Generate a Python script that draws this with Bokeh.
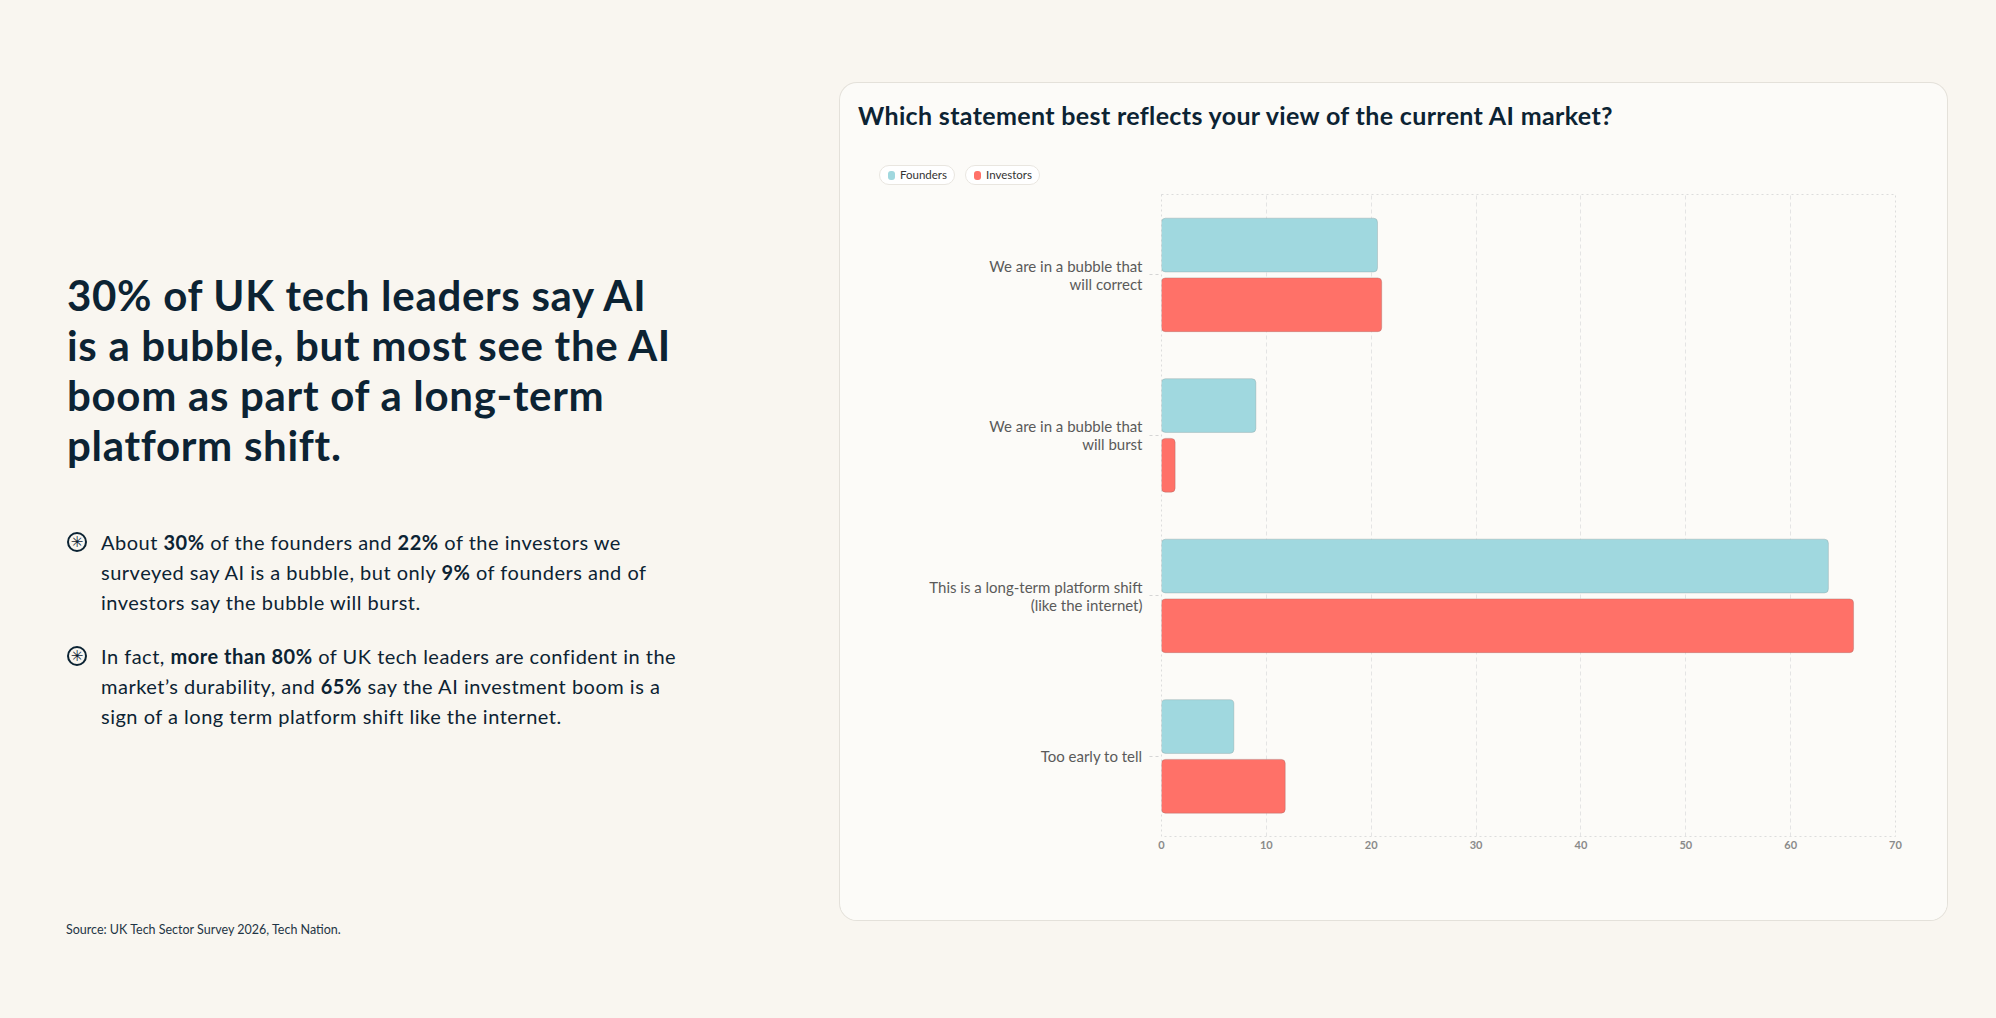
from bokeh.plotting import figure
from bokeh.models import (ColumnDataSource, Range1d, FactorRange, FixedTicker, Div,
                          GlobalInlineStyleSheet)
from bokeh.layouts import row, column
from bokeh.transform import dodge
from bokeh.embed import file_html
from bokeh.resources import INLINE

# --- data -------------------------------------------------------------
categories = [
    "We are in a bubble that\nwill correct",
    "We are in a bubble that\nwill burst",
    "This is a long-term platform shift\n(like the internet)",
    "Too early to tell",
]
founders = [20.6, 9.0, 63.6, 6.9]
investors = [21.0, 1.3, 66.0, 11.8]
x_ticks = [0, 10, 20, 30, 40, 50, 60, 70]

title = "Which statement best reflects your view of the current AI market?"
headline = ["30% of UK tech leaders say AI", "is a bubble, but most see the AI",
            "boom as part of a long-term", "platform shift."]
bullet_1 = ["About <b>30%</b> of the founders and <b>22%</b> of the investors we",
            "surveyed say AI is a bubble, but only <b>9%</b> of founders and of",
            "investors say the bubble will burst."]
bullet_2 = ["In fact, <b>more than 80%</b> of UK tech leaders are confident in the",
            "market\u2019s durability, and <b>65%</b> say the AI investment boom is a",
            "sign of a long term platform shift like the internet."]
source_note = "Source: UK Tech Sector Survey 2026, Tech Nation."

PAGE_BG = "#F9F6F0"
CARD_BG = "#FCFBF8"
INK = "#0C2333"
FOUNDERS = "#A0D8DF"
INVESTORS = "#FF7168"
FONT = "Lato"


def set_color(name):
    return FOUNDERS if name == "Founders" else INVESTORS


# --- left narrative ------------------------------------------------------
def bullet(lines, top):
    icon = (f'<div style="position:absolute;left:67px;top:{top + 5}px;width:20px;height:20px;'
            f'box-sizing:border-box;border:2px solid {INK};border-radius:50%;display:flex;'
            f'align-items:center;justify-content:center;font-family:\'DejaVu Sans\';'
            f'font-size:15px;font-weight:700;line-height:1;color:{INK};">\u2733</div>')
    body = (f'<div style="position:absolute;left:101px;top:{top}px;font-size:20px;line-height:30px;'
            f'letter-spacing:0.5px;white-space:nowrap;color:{INK};">' + "<br>".join(lines) + "</div>")
    return icon + body


left_html = (
    f'<div style="position:relative;width:840px;height:1018px;font-family:{FONT};">'
    f'<div style="position:absolute;left:67px;top:270px;font-size:42px;line-height:50px;'
    f'font-weight:700;letter-spacing:0.7px;white-space:nowrap;color:{INK};">'
    + "<br>".join(headline) + "</div>"
    + bullet(bullet_1, 527) + bullet(bullet_2, 641)
    + f'<div style="position:absolute;left:66px;top:922px;font-size:12.5px;line-height:16px;'
      f'white-space:nowrap;color:#1F3545;">{source_note}</div>'
    + "</div>"
)
left = Div(text=left_html, width=840, height=1018, margin=0)


# --- card header: title + legend pills ----------------------------------
def pill(name):
    return (f'<span style="display:inline-flex;align-items:center;height:20px;box-sizing:border-box;'
            f'padding:0 7px 0 8px;margin-right:10px;border:1px solid #E9E6E0;border-radius:11px;'
            f'background:#FFFFFF;font-size:11.5px;color:#333333;">'
            f'<span style="display:inline-block;width:7px;height:9px;border-radius:3px;'
            f'background:{set_color(name)};margin-right:5px;"></span>{name}</span>')


header_html = (
    f'<div style="position:relative;width:1107px;height:107px;font-family:{FONT};">'
    f'<div style="position:absolute;left:18px;top:17px;font-size:25px;line-height:30px;'
    f'font-weight:700;letter-spacing:0.35px;white-space:nowrap;color:{INK};">{title}</div>'
    f'<div style="position:absolute;left:39px;top:82px;display:flex;">'
    + pill("Founders") + pill("Investors") + "</div></div>"
)
header = Div(text=header_html, width=1107, height=107, margin=0)

# --- bar chart -----------------------------------------------------------
source = ColumnDataSource(dict(cat=categories, founders=founders, investors=investors))

p = figure(width=1107, height=730, title=None,
           y_range=FactorRange(factors=categories[::-1]), x_range=Range1d(0, 70),
           output_backend="svg", toolbar_location=None,
           min_border_left=321, min_border_right=52, min_border_top=4, min_border_bottom=84,
           background_fill_color=CARD_BG, border_fill_color=CARD_BG)

p.hbar(y=dodge("cat", 0.185, range=p.y_range), left=0, right="founders", height=0.335,
       fill_color=FOUNDERS, line_color="#8A9A9C", line_alpha=0.35, border_radius=4, source=source)
p.hbar(y=dodge("cat", -0.187, range=p.y_range), left=0, right="investors", height=0.335,
       fill_color=INVESTORS, line_color="#9A6A66", line_alpha=0.35, border_radius=4, source=source)

p.outline_line_color = "#DCDCDC"
p.outline_line_dash = "2 3"
p.ygrid.grid_line_color = None
p.xgrid.grid_line_color = "#E4E4E4"
p.xgrid.grid_line_dash = "4 3"

p.xaxis.ticker = FixedTicker(ticks=x_ticks)
p.xaxis.axis_line_color = None
p.xaxis.major_tick_line_color = None
p.xaxis.major_tick_out = 0
p.xaxis.major_tick_in = 0
p.xaxis.minor_tick_line_color = None
p.xaxis.major_label_standoff = 4
p.xaxis.major_label_text_font = FONT
p.xaxis.major_label_text_font_size = "11px"
p.xaxis.major_label_text_font_style = "bold"
p.xaxis.major_label_text_color = "#8A8A8A"

p.yaxis.axis_line_color = None
p.yaxis.major_tick_in = 0
p.yaxis.major_tick_out = 12
p.yaxis.major_tick_line_color = "#D5D5D5"
p.yaxis.major_tick_line_dash = "3 3"
p.yaxis.major_label_standoff = 7
p.yaxis.major_label_text_font = FONT
p.yaxis.major_label_text_font_size = "15px"
p.yaxis.major_label_text_line_height = 1.0
p.yaxis.major_label_text_color = "#5A5A5A"

card = column(header, p, margin=(83, 49, 98, 0),
              styles={"background-color": CARD_BG, "border-radius": "17px",
                      "box-shadow": "0 0 0 1px #E4E1DA", "overflow": "hidden"})

page = row(left, card, margin=0,
           stylesheets=[GlobalInlineStyleSheet(css=f"body {{ background-color: {PAGE_BG}; }}")])

open("out.html", "w").write(file_html(page, INLINE))
